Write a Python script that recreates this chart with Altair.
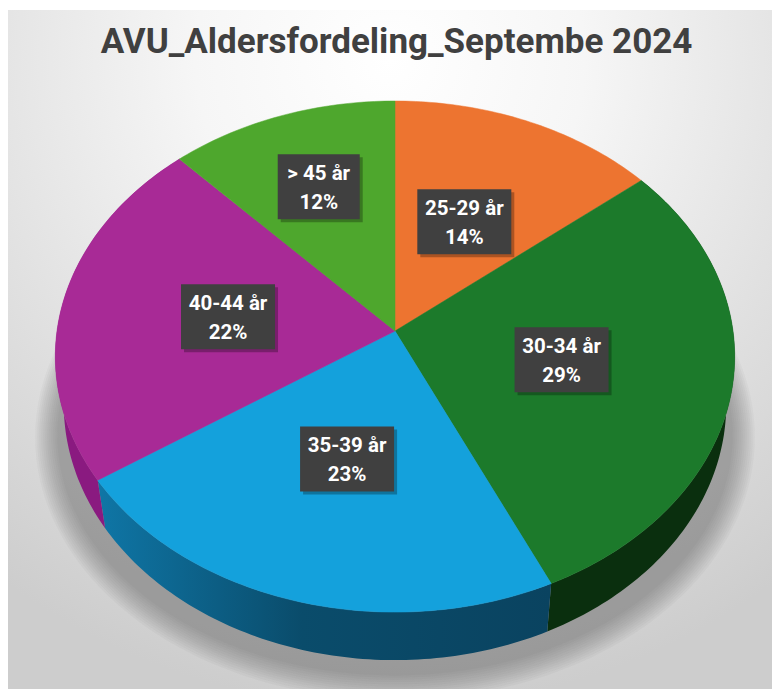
import math
import altair as alt
import pandas as pd

TITLE = "AVU_Aldersfordeling_Septembe 2024"
categories = ["25-29 år", "30-34 år", "35-39 år", "40-44 år", "> 45 år"]
values = [14.1, 29.0, 22.5, 22.4, 12.0]
percent_labels = ["14%", "29%", "23%", "22%", "12%"]
top_colors = ["#ed7430", "#1c7a2b", "#14a1dc", "#a82a96", "#4ea72d"]
label_radius = [0.5, 0.5, 0.5, 0.5, 0.65]

W, H = 764, 681
OX, OY = 8, 7  # chart origin on the page
CX, CY, RX, RY, K = 395 - OX, 330 - OY, 338, 253, 0.10
WALL = 48


def project(theta, r=1.0, cx=CX, cy=CY, rx=RX, ry=RY):
    d = 1 + K * r * math.cos(theta)
    return cx + rx * r * math.sin(theta) / d, cy - ry * r * math.cos(theta) / d


def arc(start, end, **kw):
    n = max(2, int(abs(end - start) * 60))
    return [project(start + (end - start) * i / n, **kw) for i in range(n + 1)]


x_scale = alt.Scale(domain=[0, W], range=[0, W])
y_scale = alt.Scale(domain=[0, H], range=[0, H])


def poly(points, **mark):
    df = pd.DataFrame({"x": [p[0] for p in points], "y": [p[1] for p in points], "i": range(len(points))})
    return alt.Chart(df).mark_line(interpolate="linear-closed", **mark).encode(
        x=alt.X("x:Q", scale=x_scale, axis=None),
        y=alt.Y("y:Q", scale=y_scale, axis=None),
        order="i:Q",
    )


layers = []
bg = alt.Chart(pd.DataFrame({"a": [0]})).mark_rect(
    fill=alt.Gradient(
        gradient="radial", x1=0.5, y1=0.12, r1=0, x2=0.5, y2=0.12, r2=0.85,
        stops=[
            alt.GradientStop(offset=0, color="#ffffff"),
            alt.GradientStop(offset=0.3, color="#f6f6f6"),
            alt.GradientStop(offset=1, color="#cdcdcd"),
        ],
    )
).encode(x=alt.value(0), x2=alt.value(W), y=alt.value(2), y2=alt.value(H))
layers.append(bg)

# soft shadow: stacked translucent ellipses
for e in range(24, 0, -2):
    pts = arc(0, 2 * math.pi, cx=CX, cy=CY + 80, rx=RX + e - 4, ry=238 + e - 2)
    layers.append(poly(pts, fill="#555555", fillOpacity=0.04, strokeWidth=0))

# walls
cum = [0.0]
for v in values:
    cum.append(cum[-1] + v)
angles = [c / cum[-1] * 2 * math.pi for c in cum]
blue_wall = alt.Gradient(
    gradient="linear", x1=0, y1=0, x2=1, y2=0,
    stops=[
        alt.GradientStop(offset=0, color="#0f76a6"),
        alt.GradientStop(offset=0.45, color="#0a4c6b"),
        alt.GradientStop(offset=1, color="#0a4360"),
    ],
)
wall_fill = {1: "#0a2f0e", 2: blue_wall, 3: "#8a1a80"}
for idx, fill in wall_fill.items():
    a, b = angles[idx], angles[idx + 1]
    kw = dict(cx=CX, cy=CY + WALL, rx=RX * 0.975, ry=RY)
    pts = arc(a, b) + arc(b, a, **kw)
    layers.append(poly(pts, fill=fill, strokeWidth=0))

# top faces
for idx, col in enumerate(top_colors):
    pts = [(CX, CY)] + arc(angles[idx], angles[idx + 1])
    layers.append(poly(pts, fill=col, stroke=col, strokeWidth=0.5))

# data labels
rows = []
for idx, (c, p, r) in enumerate(zip(categories, percent_labels, label_radius)):
    mid = (angles[idx] + angles[idx + 1]) / 2
    x, y = project(mid, r=r)
    half = 41 if c.startswith(">") else 47
    rows.append(dict(cat=c, pct=p, x=x, y=y, x0=x - half, x1=x + half, y0=y - 32.5, y1=y + 32.5,
                     sx0=x - half + 3, sx1=x + half + 3, sy0=y - 29.5, sy1=y + 35.5,
                     l1=y - 13, l2=y + 16))
labels = pd.DataFrame(rows)
X = lambda f: alt.X(f + ":Q", scale=x_scale, axis=None)
Y = lambda f: alt.Y(f + ":Q", scale=y_scale, axis=None)
layers.append(alt.Chart(labels).mark_rect(color="#000000", opacity=0.28).encode(
    x=X("sx0"), x2="sx1:Q", y=Y("sy0"), y2="sy1:Q"))
layers.append(alt.Chart(labels).mark_rect(color="#404040").encode(
    x=X("x0"), x2="x1:Q", y=Y("y0"), y2="y1:Q"))
FONT = "Roboto"
text = dict(font=FONT, fontWeight="bold", fontSize=20.5, color="#ffffff", align="center", baseline="middle")
layers.append(alt.Chart(labels).mark_text(**text).encode(x=X("x"), y=Y("l1"), text="cat:N"))
layers.append(alt.Chart(labels).mark_text(**text).encode(x=X("x"), y=Y("l2"), text="pct:N"))

title = alt.Chart(pd.DataFrame({"t": [TITLE], "x": [396.5 - OX], "y": [41 - OY]})).mark_text(
    font=FONT, fontWeight="bold", fontSize=35, color="#404040", align="center", baseline="middle"
).encode(x=X("x"), y=Y("y"), text="t:N")
layers.append(title)

chart = alt.layer(*layers).properties(
    width=W, height=H, padding=0, background="#ffffff",
    autosize=alt.AutoSizeParams(type="none"),
).configure_view(stroke=None)
chart.save("out.html", embed_options={"renderer": "svg", "actions": False})
